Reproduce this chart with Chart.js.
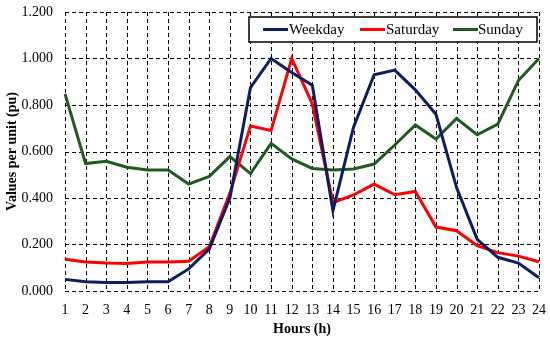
<!DOCTYPE html>
<html>
<head>
<meta charset="utf-8">
<script src="https://cdn.jsdelivr.net/npm/chart.js@4.4.1/dist/chart.umd.min.js"></script>
<style>
  html, body { margin: 0; padding: 0; background: #fff; }
  #wrap { width: 550px; height: 342px; position: relative; }
</style>
</head>
<body>
<div id="wrap"><canvas id="c" width="550" height="342"></canvas></div>
<script>
const hours = ['1','2','3','4','5','6','7','8','9','10','11','12','13','14','15','16','17','18','19','20','21','22','23','24'];
const weekday  = [0.050,0.040,0.037,0.037,0.040,0.040,0.095,0.180,0.400,0.875,1.000,0.940,0.885,0.345,0.705,0.930,0.950,0.865,0.760,0.445,0.222,0.145,0.120,0.057];
const saturday = [0.137,0.125,0.120,0.118,0.125,0.125,0.128,0.190,0.420,0.710,0.690,1.000,0.805,0.380,0.413,0.460,0.414,0.428,0.275,0.259,0.195,0.165,0.150,0.126];
const sunday   = [0.848,0.548,0.558,0.532,0.520,0.520,0.460,0.493,0.578,0.505,0.635,0.568,0.527,0.520,0.525,0.546,0.628,0.714,0.654,0.742,0.672,0.718,0.905,1.000];
const seriesNames = ['Weekday','Saturday','Sunday'];
const yTicks = [0, 0.2, 0.4, 0.6, 0.8, 1.0, 1.2];

const colors = ['#0e1c66', '#ff0000', '#1e5b1e'];
const FONT = "'Liberation Serif', 'Times New Roman', serif";

// dashed grid drawn from the scales' own tick positions
const dashedGrid = {
  id: 'dashedGrid',
  beforeDatasetsDraw(chart) {
    const ctx = chart.ctx;
    const ca = chart.chartArea;
    const xs = chart.scales.x, ys = chart.scales.y;
    ctx.save();
    ctx.strokeStyle = '#000';
    ctx.lineWidth = 1;
    ctx.setLineDash([4, 3]);
    xs.ticks.forEach((t, i) => {
      const x = Math.round(xs.getPixelForTick(i)) + 0.5;
      ctx.beginPath(); ctx.moveTo(x, ca.top); ctx.lineTo(x, ca.bottom); ctx.stroke();
    });
    ys.ticks.forEach((t, i) => {
      const y = Math.round(ys.getPixelForTick(i)) + 0.5;
      ctx.beginPath(); ctx.moveTo(ca.left, y); ctx.lineTo(ca.right, y); ctx.stroke();
    });
    ctx.restore();
  }
};

const boxLegend = {
  id: 'boxLegend',
  afterDatasetsDraw(chart) {
    const ctx = chart.ctx;
    const ca = chart.chartArea;
    const right = ca.right - 2, top = ca.top + 5, w = 288, h = 25;
    const left = right - w;
    ctx.save();
    ctx.fillStyle = '#fff';
    ctx.fillRect(left, top, w, h);
    ctx.strokeStyle = '#000';
    ctx.lineWidth = 1.5;
    ctx.strokeRect(left, top, w, h);
    const items = [
      {lx: left + 14, tx: left + 40},
      {lx: left + 111, tx: left + 137},
      {lx: left + 204, tx: left + 229}
    ];
    ctx.font = "15px " + FONT;
    ctx.textBaseline = 'middle';
    ctx.textAlign = 'left';
    const cy = top + h / 2;
    chart.data.datasets.forEach((ds, i) => {
      ctx.strokeStyle = ds.borderColor;
      ctx.lineWidth = 3;
      ctx.beginPath();
      ctx.moveTo(items[i].lx, cy);
      ctx.lineTo(items[i].lx + 25, cy);
      ctx.stroke();
      ctx.fillStyle = '#000';
      ctx.fillText(ds.label, items[i].tx, cy + 1);
    });
    ctx.restore();
  }
};

new Chart(document.getElementById('c'), {
  type: 'line',
  data: {
    labels: hours,
    datasets: [
      { label: seriesNames[0], data: weekday,  borderColor: colors[0], backgroundColor: colors[0] },
      { label: seriesNames[1], data: saturday, borderColor: colors[1], backgroundColor: colors[1] },
      { label: seriesNames[2], data: sunday,   borderColor: colors[2], backgroundColor: colors[2] }
    ]
  },
  options: {
    responsive: false,
    animation: false,
    layout: { padding: { left: 0, right: 11, top: 12, bottom: 0 } },
    elements: {
      line: { borderWidth: 3, tension: 0 },
      point: { radius: 0, hoverRadius: 0 }
    },
    plugins: {
      legend: { display: false },
      tooltip: { enabled: false }
    },
    scales: {
      x: {
        type: 'category',
        offset: false,
        grid: { display: true, drawOnChartArea: false, drawTicks: true, tickLength: 11, tickColor: 'rgba(0,0,0,0)' },
        border: { display: false },
        ticks: { color: '#000', font: { family: FONT, size: 14 }, padding: 0, maxRotation: 0, autoSkip: false },
        title: { display: true, text: 'Hours (h)', color: '#000', font: { family: FONT, size: 14, weight: 'bold' } },
        afterFit(s) { s.height = 51; }
      },
      y: {
        min: 0, max: 1.2,
        afterBuildTicks(s) { s.ticks = yTicks.map(v => ({ value: v })); },
        grid: { display: true, drawOnChartArea: false, drawTicks: true, tickLength: 12, tickColor: 'rgba(0,0,0,0)' },
        border: { display: false },
        ticks: { color: '#000', font: { family: FONT, size: 14 }, padding: 0, callback: v => v.toFixed(3) },
        title: { display: true, text: 'Values per unit (pu)', color: '#000', font: { family: FONT, size: 14, weight: 'bold' } },
        afterFit(s) { s.width = 65; }
      }
    }
  },
  plugins: [dashedGrid, boxLegend]
});
</script>
</body>
</html>
